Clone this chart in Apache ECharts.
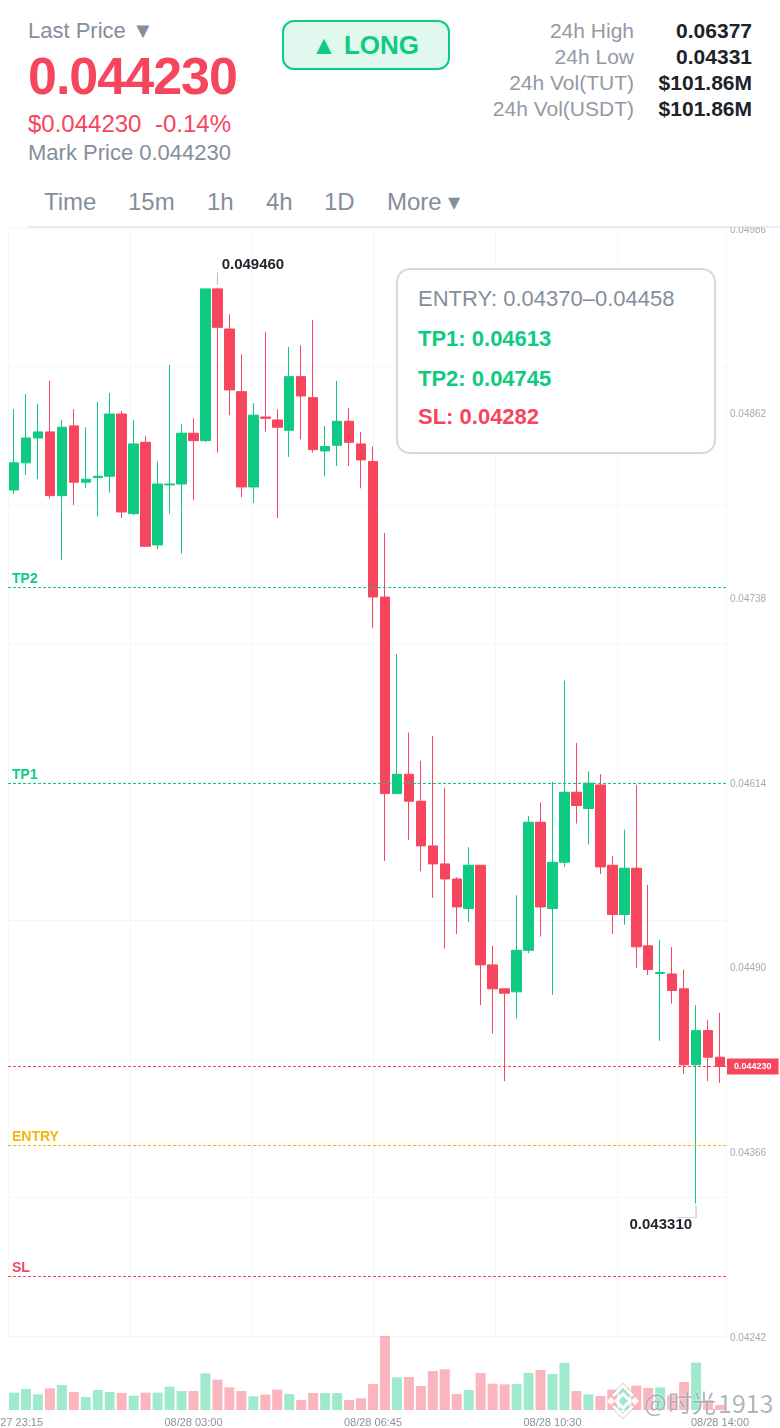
<!DOCTYPE html>
<html>
<head>
<meta charset="utf-8">
<script src="https://cdn.jsdelivr.net/npm/echarts@6/dist/echarts.min.js"></script>
<style>
html,body{margin:0;padding:0;background:#fff;width:780px;height:1428px;overflow:hidden;font-family:"Liberation Sans",Arial,sans-serif}
.t{position:absolute;white-space:pre;line-height:30px;height:30px}
.g{color:#848e9c}.r{color:#f6465d}.k{color:#1e2329;font-weight:700}
.lab{right:146px;font-size:21px;color:#929aa5}
.val{right:28px;font-size:21px}
.tab{top:187px;font-size:24px;color:#848e9c}
#chart{position:absolute;left:0;top:227px;width:780px;height:1201px}
#rule{position:absolute;left:28px;right:0;top:226px;height:2px;background:#eaecef}
#long{position:absolute;left:282px;top:20px;width:162px;height:46px;padding-right:2px;border:2px solid #0ecb81;border-radius:12px;background:#e0f8ee;color:#0ecb81;font-weight:700;font-size:26px;line-height:46px;text-align:center}
#box{position:absolute;left:396px;top:268px;width:316px;height:182px;border:2px solid #d5d9df;border-radius:14px;background:#fff;z-index:5}
#box .t{left:20px;font-size:22px}
#wm{position:absolute;left:606px;top:1382px;width:174px;height:40px;z-index:6;pointer-events:none}
#wm span{position:absolute;top:0;font:24px/40px "Noto Sans CJK SC","Liberation Sans",sans-serif;color:rgba(130,135,150,.62);text-shadow:0 0 2px rgba(255,255,255,.9);white-space:pre}
</style>
</head>
<body>
<div class="t g" style="left:28px;top:16px;font-size:22px">Last Price ▼</div>
<div class="t r" style="left:28px;top:46px;height:60px;line-height:60px;font-size:52px;font-weight:700;letter-spacing:-1px">0.044230</div>
<div class="t r" style="left:28px;top:109px;font-size:24px">$0.044230</div>
<div class="t r" style="left:155px;top:109px;font-size:24px">-0.14%</div>
<div class="t g" style="left:28px;top:138px;font-size:22px">Mark Price 0.044230</div>
<div id="long">▲ LONG</div>
<div class="t lab" style="top:16px">24h High</div><div class="t k val" style="top:16px">0.06377</div>
<div class="t lab" style="top:42px">24h Low</div><div class="t k val" style="top:42px">0.04331</div>
<div class="t lab" style="top:68px">24h Vol(TUT)</div><div class="t k val" style="top:68px">$101.86M</div>
<div class="t lab" style="top:94px">24h Vol(USDT)</div><div class="t k val" style="top:94px">$101.86M</div>
<div class="t tab" style="left:44px">Time</div>
<div class="t tab" style="left:128px">15m</div>
<div class="t tab" style="left:207px">1h</div>
<div class="t tab" style="left:266px">4h</div>
<div class="t tab" style="left:324px">1D</div>
<div class="t tab" style="left:387px">More ▾</div>
<div id="rule"></div>
<div id="chart"></div>
<div id="box">
  <div class="t g" style="top:14px">ENTRY: 0.04370–0.04458</div>
  <div class="t" style="top:54px;color:#0ecb81;font-weight:700">TP1: 0.04613</div>
  <div class="t" style="top:94px;color:#0ecb81;font-weight:700">TP2: 0.04745</div>
  <div class="t" style="top:132px;color:#f6465d;font-weight:700">SL: 0.04282</div>
</div>
<div id="wm">
  <svg width="36" height="40" viewBox="0 0 36 40" style="position:absolute;left:0;top:0">
    <g fill="none" stroke="rgba(170,175,185,.45)" stroke-width="5">
      <path d="M7 14 L17 4 L27 14"/><path d="M7 24 L17 34 L27 24"/>
    </g>
    <g fill="none" stroke="rgba(255,255,255,.95)" stroke-width="3">
      <path d="M7 14 L17 4 L27 14"/><path d="M7 24 L17 34 L27 24"/>
      <path d="M17 12 L24 19 L17 26 L10 19 Z"/>
    </g>
    <g fill="rgba(255,255,255,.95)">
      <path d="M5 15 L9 19 L5 23 L1 19 Z"/><path d="M29 15 L33 19 L29 23 L25 19 Z"/>
    </g>
  </svg>
  <span style="left:38px">@</span><span style="left:62px">时光</span><span style="left:112px;font-size:25px">1913</span>
</div>
<script>
var categories = ["08/27 23:15","08/27 23:30","08/27 23:45","08/28 00:00","08/28 00:15","08/28 00:30","08/28 00:45","08/28 01:00","08/28 01:15","08/28 01:30","08/28 01:45","08/28 02:00","08/28 02:15","08/28 02:30","08/28 02:45","08/28 03:00","08/28 03:15","08/28 03:30","08/28 03:45","08/28 04:00","08/28 04:15","08/28 04:30","08/28 04:45","08/28 05:00","08/28 05:15","08/28 05:30","08/28 05:45","08/28 06:00","08/28 06:15","08/28 06:30","08/28 06:45","08/28 07:00","08/28 07:15","08/28 07:30","08/28 07:45","08/28 08:00","08/28 08:15","08/28 08:30","08/28 08:45","08/28 09:00","08/28 09:15","08/28 09:30","08/28 09:45","08/28 10:00","08/28 10:15","08/28 10:30","08/28 10:45","08/28 11:00","08/28 11:15","08/28 11:30","08/28 11:45","08/28 12:00","08/28 12:15","08/28 12:30","08/28 12:45","08/28 13:00","08/28 13:15","08/28 13:30","08/28 13:45","08/28 14:00"];
var xLabelIndex = [0,15,30,45,59];
var priceTicks = [0.04242,0.04366,0.04490,0.04614,0.04738,0.04862,0.04986];
var opens = [4810.1,4828.3,4845.0,4849.1,4806.3,4853.1,4815.3,4818.4,4819.3,4861.1,4794.2,4842.1,4773.2,4813.5,4814.1,4848.2,4843.2,4945.1,4918.2,4876.1,4812.1,4859.1,4857.1,4850.2,4886.2,4872.1,4836.3,4840.1,4856.2,4841.0,4829.2,4738.2,4606.2,4619.2,4601.1,4571.1,4559.0,4548.9,4529.0,4558.1,4491.2,4475.1,4473.1,4501.0,4587.0,4529.0,4560.1,4607.1,4596.2,4612.0,4558.1,4525.0,4556.1,4504.0,4485.4,4485.1,4475.1,4424.1,4447.1,4429.2];
var closes = [4828.3,4845.0,4849.1,4806.3,4852.2,4815.3,4817.3,4819.3,4861.1,4795.3,4841.0,4772.3,4814.1,4814.1,4848.2,4843.2,4945.1,4919.3,4877.3,4812.1,4860.3,4858.2,4852.2,4886.2,4873.2,4837.2,4839.2,4856.2,4842.1,4830.3,4738.2,4606.2,4619.2,4601.1,4571.1,4559.0,4548.9,4530.1,4558.1,4491.2,4475.1,4472.2,4501.0,4587.0,4530.1,4560.1,4607.1,4598.2,4613.2,4557.0,4525.0,4556.1,4503.3,4488.1,4486.1,4474.0,4424.1,4447.1,4429.2,4423.0];
var lows = [4807.2,4820.2,4817.3,4804.3,4763.1,4800.0,4811.2,4792.2,4808.3,4791.3,4793.3,4772.3,4770.3,4794.2,4767.4,4803.2,4842.1,4835.2,4860.3,4805.2,4801.2,4849.3,4791.3,4832.3,4844.1,4835.2,4819.3,4826.2,4826.2,4811.2,4717.4,4561.0,4606.2,4575.1,4554.1,4536.2,4502.2,4512.0,4520.1,4464.1,4445.1,4413.1,4455.2,4499.0,4510.2,4471.1,4557.0,4586.1,4572.0,4552.1,4512.0,4518.1,4489.2,4484.3,4440.2,4465.2,4418.0,4331.0,4413.1,4412.0];
var highs = [4864.3,4874.4,4868.1,4883.3,4857.1,4864.3,4852.2,4869.2,4875.2,4863.2,4857.1,4846.2,4829.2,4894.1,4854.2,4858.2,4945.1,4946.0,4928.1,4901.2,4868.3,4916.2,4864.3,4906.1,4907.3,4924.3,4853.1,4883.3,4865.2,4849.1,4839.2,4781.2,4700.0,4647.2,4628.2,4644.9,4610.0,4550.1,4570.2,4558.1,4504.0,4475.1,4538.0,4591.2,4600.2,4614.1,4682.1,4640.2,4621.2,4619.2,4564.2,4582.1,4612.0,4544.9,4508.0,4503.1,4488.1,4464.1,4454.0,4459.0];
var volumes = [52,63,47,65,75,54,39,60,54,51,43,52,52,70,57,57,110,91,68,57,41,46,61,48,30,51,51,51,30,35,78,222,98,99,72,117,122,48,60,111,79,77,78,111,120,108,141,57,47,42,61,66,73,66,68,44,84,142,30,15];
var levels = [
  ["TP2",0.04745,"#0ecb81"],
  ["TP1",0.04613,"#0ecb81"],
  ["ENTRY",0.04370,"#f0b90b"],
  ["SL",0.04282,"#f6465d"]
];
var lastPrice = 0.04423, highPoint = [17,0.04946], lowPoint = [57,0.04331];

var UP="#0ecb81", DOWN="#f6465d", GRID="#f5f6f7", TICK="#a4abb5";
function scaled(a){return a.map(function(v){return v/100000;});}
var O=scaled(opens),C=scaled(closes),L=scaled(lows),H=scaled(highs);
var candle=O.map(function(o,i){return [o,C[i],L[i],H[i]];});
var vol=volumes.map(function(v,i){return {value:v,itemStyle:{color:C[i]>O[i]?UP:DOWN,opacity:.4}};});
var lineData=levels.map(function(l){
  return {yAxis:l[1],lineStyle:{color:l[2],type:[3,2],width:1},
    label:{show:true,position:"insideStartTop",formatter:l[0],color:l[2],fontWeight:700,fontSize:14,fontFamily:"Liberation Sans",distance:[4,1]}};
});
lineData.push({yAxis:lastPrice,lineStyle:{color:DOWN,type:[3,2],width:1},
  label:{show:true,position:"end",formatter:lastPrice.toFixed(6),color:"#fff",backgroundColor:DOWN,padding:[4,7,3,7],fontWeight:700,fontSize:9,fontFamily:"Liberation Sans",distance:1}});
var extLabel={show:true,color:"#1e2329",fontWeight:700,fontSize:15,fontFamily:"Liberation Sans",position:"inside"};
var chart=echarts.init(document.getElementById("chart"),null,{renderer:"canvas"});
chart.setOption({
  animation:false,
  grid:[
    {left:8,width:718,top:1,height:1108,outerBoundsMode:"none"},
    {left:8,width:718,top:1109,height:74,outerBoundsMode:"none"}
  ],
  xAxis:[
    {type:"category",gridIndex:0,data:categories,axisLine:{show:false},axisTick:{show:false},axisLabel:{show:false},splitLine:{show:false}},
    {type:"value",gridIndex:0,min:0,max:718,interval:121.8,position:"top",axisLine:{show:false},axisTick:{show:false},axisLabel:{show:false},splitLine:{show:true,lineStyle:{color:GRID,width:1}}},
    {type:"category",gridIndex:1,data:categories,axisLine:{show:false},axisTick:{show:false},splitLine:{show:false},
      axisLabel:{show:true,interval:function(i){return xLabelIndex.indexOf(i)>=0;},margin:7,color:"#8a929e",fontSize:11,fontFamily:"Liberation Sans",showMinLabel:true,showMaxLabel:true,hideOverlap:false}}
  ],
  yAxis:[
    {type:"value",gridIndex:0,position:"right",min:0.04242,max:0.04986,scale:true,axisLine:{show:false},axisTick:{show:false},splitLine:{show:false},
      axisLabel:{show:true,customValues:priceTicks,inside:false,margin:4,verticalAlign:"top",lineHeight:4,color:TICK,fontSize:10,fontFamily:"Liberation Sans",formatter:function(v){return v.toFixed(5);}}},
    {type:"value",gridIndex:0,min:0,max:8,interval:1,axisLine:{show:false},axisTick:{show:false},axisLabel:{show:false},splitLine:{show:true,lineStyle:{color:GRID,width:1}}},
    {type:"value",gridIndex:1,min:0,max:222,axisLine:{show:false},axisTick:{show:false},axisLabel:{show:false},splitLine:{show:false}}
  ],
  series:[
    {type:"candlestick",name:"Price",xAxisIndex:0,yAxisIndex:0,data:candle,barWidth:10,
      itemStyle:{color:UP,color0:DOWN,borderColor:UP,borderColor0:DOWN,borderWidth:1},
      markLine:{silent:true,symbol:"none",animation:false,precision:6,data:lineData},
      markPoint:{silent:true,animation:false,data:[
        {coord:highPoint,symbol:"rect",symbolSize:[1,12],symbolOffset:[0,-9],itemStyle:{color:"#b0b6c0"},label:{show:false}},
        {coord:highPoint,symbol:"circle",symbolSize:1,itemStyle:{color:"rgba(0,0,0,0)"},label:Object.assign({},extLabel,{formatter:"0.049460",offset:[35.5,-22.5]})},
        {coord:lowPoint,symbol:"path://M20 0 V12 H0",symbolKeepAspect:false,symbolSize:[20,12],symbolOffset:[-10,8],itemStyle:{color:"none",borderColor:"#c4c8cf",borderWidth:1},label:{show:false}},
        {coord:lowPoint,symbol:"circle",symbolSize:1,itemStyle:{color:"rgba(0,0,0,0)"},label:Object.assign({},extLabel,{formatter:"0.043310",offset:[-35.3,21.5]})}
      ]}},
    {type:"bar",name:"Volume",xAxisIndex:2,yAxisIndex:2,data:vol,barWidth:10}
  ]
});
</script>
</body>
</html>
